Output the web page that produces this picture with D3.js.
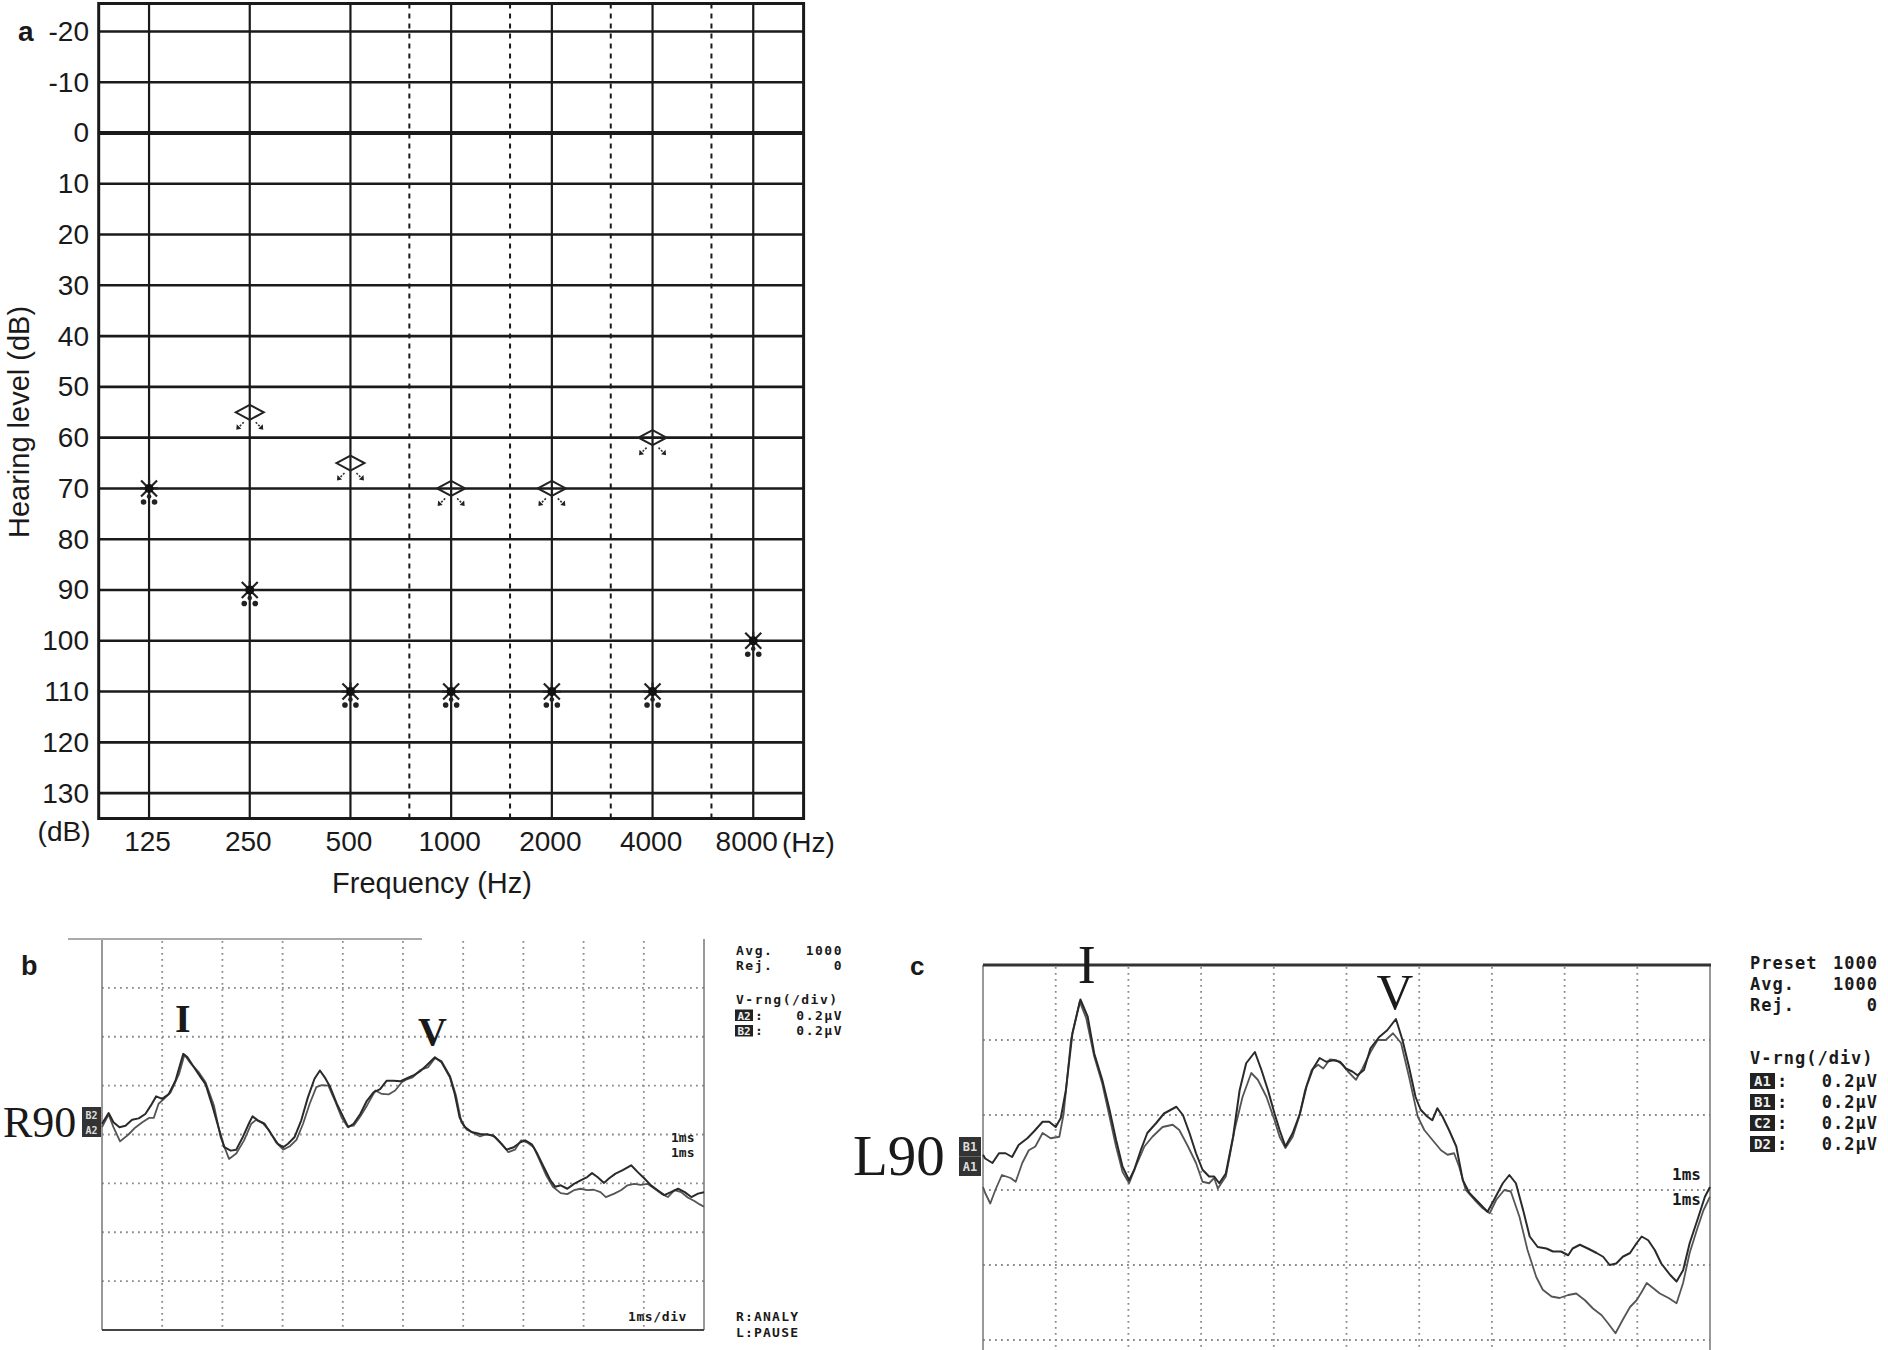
<!DOCTYPE html>
<html><head><meta charset="utf-8">
<script src="https://cdn.jsdelivr.net/npm/d3@7"></script>
<style>body{margin:0;background:#fff}svg{display:block}</style>
</head><body>
<svg id="chart" width="1888" height="1350"></svg>
<script>
// ---------- Panel a : audiogram ----------
const frequencies = [125, 250, 500, 1000, 2000, 4000, 8000];
const freqLabels = ["125", "250", "500", "1000", "2000", "4000", "8000"];
const midFrequencies = [750, 1500, 3000, 6000];
const dbTicks = [-20, -10, 0, 10, 20, 30, 40, 50, 60, 70, 80, 90, 100, 110, 120, 130];
const dbLabels = ["-20", "-10", "0", "10", "20", "30", "40", "50", "60", "70", "80", "90", "100", "110", "120", "130"];
const diamondFreqs = [250, 500, 1000, 2000, 4000];
const diamondLevels = [55, 65, 70, 70, 60];
const asteriskFreqs = [125, 250, 500, 1000, 2000, 4000, 8000];
const asteriskLevels = [70, 90, 110, 110, 110, 110, 100];

// ---------- Panel b : right ear ABR (t ms, amplitude uV) ----------
const rightTraceA = [[0,0.044],[0.11,0.088],[0.19,0.05],[0.29,0.03],[0.39,0.036],[0.5,0.06],[0.61,0.066],[0.72,0.084],[0.81,0.118],[0.9,0.156],[1.0,0.146],[1.11,0.166],[1.22,0.22],[1.35,0.33],[1.42,0.316],[1.53,0.274],[1.64,0.234],[1.72,0.206],[1.84,0.112],[1.95,0.016],[2.03,-0.052],[2.14,-0.066],[2.23,-0.062],[2.34,-0.01],[2.45,0.05],[2.5,0.074],[2.59,0.058],[2.7,0.044],[2.81,0.002],[2.92,-0.038],[3.01,-0.052],[3.09,-0.038],[3.2,-0.01],[3.31,0.058],[3.42,0.152],[3.53,0.228],[3.62,0.262],[3.7,0.234],[3.79,0.194],[3.9,0.126],[4.01,0.07],[4.09,0.03],[4.18,0.044],[4.29,0.084],[4.4,0.138],[4.51,0.172],[4.62,0.186],[4.73,0.22],[4.84,0.22],[4.96,0.218],[5.05,0.228],[5.19,0.244],[5.28,0.258],[5.39,0.282],[5.53,0.316],[5.64,0.296],[5.78,0.234],[5.86,0.166],[5.94,0.07],[6.03,0.03],[6.14,0.01],[6.28,0.002],[6.39,0],[6.5,-0.004],[6.61,-0.032],[6.72,-0.062],[6.84,-0.052],[6.95,-0.032],[7.03,-0.024],[7.14,-0.04],[7.23,-0.078],[7.34,-0.134],[7.45,-0.188],[7.53,-0.214],[7.62,-0.208],[7.73,-0.222],[7.84,-0.202],[7.95,-0.188],[8.06,-0.174],[8.14,-0.158],[8.23,-0.174],[8.34,-0.198],[8.42,-0.18],[8.53,-0.16],[8.65,-0.146],[8.79,-0.126],[8.9,-0.154],[9.01,-0.18],[9.12,-0.208],[9.23,-0.228],[9.34,-0.248],[9.45,-0.236],[9.57,-0.222],[9.68,-0.236],[9.79,-0.256],[9.9,-0.242],[10,-0.236]];
const rightTraceB = [[0,0.03],[0.11,0.082],[0.19,0.03],[0.3,-0.028],[0.44,0],[0.55,0.028],[0.67,0.05],[0.78,0.068],[0.86,0.068],[0.94,0.126],[1.03,0.146],[1.14,0.172],[1.28,0.248],[1.37,0.326],[1.47,0.292],[1.61,0.254],[1.72,0.214],[1.86,0.118],[1.97,-0.01],[2.11,-0.1],[2.23,-0.078],[2.36,-0.024],[2.48,0.044],[2.56,0.06],[2.67,0.046],[2.78,0.016],[2.89,-0.032],[3.01,-0.062],[3.12,-0.048],[3.23,-0.022],[3.34,0.044],[3.45,0.126],[3.56,0.194],[3.65,0.202],[3.76,0.2],[3.87,0.138],[3.98,0.07],[4.08,0.032],[4.18,0.036],[4.29,0.074],[4.4,0.118],[4.54,0.18],[4.65,0.166],[4.76,0.164],[4.87,0.18],[4.98,0.214],[5.05,0.224],[5.16,0.234],[5.29,0.264],[5.42,0.276],[5.53,0.312],[5.64,0.3],[5.78,0.24],[5.88,0.16],[5.97,0.05],[6.06,0.02],[6.17,0.006],[6.28,-0.008],[6.4,0.002],[6.53,-0.01],[6.64,-0.038],[6.75,-0.072],[6.86,-0.062],[6.96,-0.024],[7.06,-0.032],[7.17,-0.052],[7.27,-0.106],[7.38,-0.168],[7.49,-0.214],[7.62,-0.24],[7.73,-0.244],[7.84,-0.228],[7.95,-0.222],[8.06,-0.228],[8.17,-0.226],[8.28,-0.236],[8.37,-0.256],[8.51,-0.242],[8.62,-0.228],[8.73,-0.208],[8.84,-0.202],[8.95,-0.206],[9.06,-0.202],[9.18,-0.222],[9.29,-0.242],[9.4,-0.256],[9.51,-0.228],[9.62,-0.236],[9.73,-0.258],[9.84,-0.272],[9.93,-0.286],[10,-0.296]];

// ---------- Panel c : left ear ABR (t ms, amplitude uV) ----------
const leftTraceA = [[0,0.294],[0.03,0.284],[0.13,0.272],[0.22,0.298],[0.31,0.298],[0.4,0.288],[0.49,0.32],[0.61,0.338],[0.7,0.356],[0.82,0.382],[0.91,0.382],[1.0,0.368],[1.07,0.392],[1.14,0.466],[1.23,0.618],[1.34,0.708],[1.44,0.662],[1.53,0.564],[1.64,0.494],[1.74,0.414],[1.83,0.334],[1.92,0.262],[2.01,0.226],[2.08,0.254],[2.17,0.306],[2.26,0.352],[2.38,0.378],[2.49,0.404],[2.66,0.422],[2.75,0.4],[2.84,0.352],[2.93,0.298],[3.02,0.254],[3.11,0.236],[3.18,0.236],[3.25,0.218],[3.34,0.244],[3.44,0.342],[3.53,0.466],[3.62,0.538],[3.74,0.568],[3.83,0.52],[3.92,0.466],[4.01,0.404],[4.08,0.36],[4.16,0.316],[4.26,0.352],[4.36,0.404],[4.45,0.476],[4.54,0.524],[4.63,0.552],[4.72,0.542],[4.82,0.546],[4.91,0.542],[4.99,0.524],[5.08,0.516],[5.15,0.506],[5.24,0.52],[5.33,0.578],[5.45,0.608],[5.56,0.626],[5.68,0.656],[5.77,0.6],[5.86,0.528],[5.95,0.448],[6.02,0.414],[6.11,0.396],[6.18,0.386],[6.25,0.418],[6.32,0.396],[6.41,0.36],[6.51,0.316],[6.6,0.226],[6.69,0.192],[6.83,0.164],[6.94,0.142],[7.03,0.174],[7.15,0.218],[7.24,0.24],[7.33,0.218],[7.43,0.146],[7.52,0.076],[7.63,0.048],[7.75,0.044],[7.84,0.036],[7.95,0.036],[8.05,0.026],[8.11,0.044],[8.21,0.054],[8.32,0.044],[8.44,0.032],[8.53,0.022],[8.62,0],[8.71,0.004],[8.8,0.022],[8.9,0.032],[8.99,0.058],[9.06,0.076],[9.15,0.066],[9.24,0.04],[9.33,0.004],[9.45,-0.026],[9.54,-0.044],[9.63,-0.014],[9.72,0.058],[9.84,0.128],[9.93,0.182],[10,0.208]];
const leftTraceB = [[0,0.208],[0.03,0.192],[0.1,0.164],[0.17,0.2],[0.26,0.24],[0.38,0.232],[0.45,0.222],[0.54,0.272],[0.63,0.306],[0.72,0.316],[0.82,0.352],[0.93,0.338],[1.05,0.342],[1.11,0.404],[1.21,0.6],[1.33,0.702],[1.42,0.658],[1.53,0.556],[1.64,0.484],[1.74,0.396],[1.83,0.316],[1.92,0.248],[2.01,0.218],[2.1,0.262],[2.22,0.316],[2.33,0.342],[2.47,0.368],[2.61,0.374],[2.7,0.36],[2.82,0.316],[2.93,0.272],[3.02,0.222],[3.11,0.218],[3.18,0.232],[3.23,0.204],[3.34,0.236],[3.46,0.36],[3.57,0.448],[3.69,0.512],[3.78,0.494],[3.9,0.448],[4.01,0.386],[4.08,0.342],[4.16,0.312],[4.26,0.342],[4.35,0.396],[4.43,0.466],[4.52,0.52],[4.61,0.534],[4.68,0.524],[4.77,0.548],[4.86,0.546],[4.95,0.534],[5.02,0.516],[5.13,0.494],[5.22,0.524],[5.33,0.568],[5.43,0.6],[5.54,0.6],[5.64,0.618],[5.75,0.592],[5.86,0.502],[5.98,0.396],[6.07,0.36],[6.18,0.334],[6.3,0.306],[6.39,0.294],[6.48,0.298],[6.55,0.262],[6.64,0.2],[6.76,0.174],[6.87,0.152],[6.97,0.138],[7.06,0.174],[7.17,0.2],[7.26,0.196],[7.38,0.128],[7.49,0.04],[7.61,-0.032],[7.7,-0.066],[7.82,-0.084],[7.93,-0.088],[8.05,-0.08],[8.16,-0.076],[8.28,-0.094],[8.39,-0.116],[8.51,-0.134],[8.6,-0.156],[8.7,-0.182],[8.8,-0.146],[8.9,-0.112],[8.99,-0.094],[9.06,-0.072],[9.13,-0.048],[9.22,-0.062],[9.31,-0.076],[9.43,-0.088],[9.54,-0.102],[9.63,-0.048],[9.72,0.032],[9.82,0.094],[9.91,0.146],[10,0.182]];

const rightInfoLabels = ["Avg.", "Rej.", "V-rng(/div)", "A2", "B2"];
const rightInfoValues = ["1000", "0", "", "0.2\u03bcV", "0.2\u03bcV"];
const leftInfoLabels = ["Preset", "Avg.", "Rej.", "V-rng(/div)", "A1", "B1", "C2", "D2"];
const leftInfoValues = ["1000", "1000", "0", "", "0.2\u03bcV", "0.2\u03bcV", "0.2\u03bcV", "0.2\u03bcV"];
const msTicks = [1, 2, 3, 4, 5, 6, 7, 8, 9];

const svg = d3.select("#chart");
const SANS = "'Liberation Sans', Arial, sans-serif";
const SERIF = "'Liberation Serif', 'Times New Roman', serif";
const MONO = "'DejaVu Sans Mono', 'Liberation Mono', monospace";
const INK = "#1a1a1a";

// ===== Panel a =====
const ax = d3.scaleLog().base(2).domain([125 / Math.SQRT2, 8000 * Math.SQRT2]).range([98.7, 803.6]);
const ay = d3.scaleLinear().domain([-25.5, 135]).range([3.5, 818.5]);
const gA = svg.append("g");

gA.selectAll("line.hgrid").data(dbTicks).join("line").attr("class", "hgrid")
  .attr("x1", ax.range()[0]).attr("x2", ax.range()[1])
  .attr("y1", d => ay(d)).attr("y2", d => ay(d))
  .attr("stroke", INK).attr("stroke-width", d => d === 0 ? 3.8 : 2.6);

gA.selectAll("line.vgrid").data(frequencies).join("line").attr("class", "vgrid")
  .attr("x1", d => ax(d)).attr("x2", d => ax(d))
  .attr("y1", ay.range()[0]).attr("y2", ay.range()[1])
  .attr("stroke", INK).attr("stroke-width", 2.2);

gA.selectAll("line.mgrid").data(midFrequencies).join("line").attr("class", "mgrid")
  .attr("x1", d => ax(d)).attr("x2", d => ax(d))
  .attr("y1", ay.range()[0]).attr("y2", ay.range()[1])
  .attr("stroke", INK).attr("stroke-width", 2).attr("stroke-dasharray", "5,5");

gA.append("rect").attr("x", ax.range()[0]).attr("y", ay.range()[0])
  .attr("width", ax.range()[1] - ax.range()[0]).attr("height", ay.range()[1] - ay.range()[0])
  .attr("fill", "none").attr("stroke", INK).attr("stroke-width", 3);

// y axis labels
const yAxis = d3.axisLeft(ay).tickValues(dbTicks).tickSize(0).tickPadding(9.7).tickFormat((d, i) => dbLabels[i]);
const yg = gA.append("g").attr("transform", `translate(${ax.range()[0]},0)`).call(yAxis);
yg.select(".domain").remove();
yg.selectAll("text").attr("font-family", SANS).attr("font-size", 28).attr("fill", INK);

// x axis labels
const xAxis = d3.axisBottom(ax).tickValues(frequencies).tickSize(0).tickPadding(13)
  .tickFormat((d, i) => freqLabels[i]);
const xg = gA.append("g").attr("transform", `translate(0,${ay.range()[1]})`).call(xAxis);
xg.select(".domain").remove();
xg.selectAll("text").attr("font-family", SANS).attr("font-size", 28).attr("fill", INK)
  .attr("x", d => d === 8000 ? -7 : -2);

gA.append("text").attr("x", 782).attr("y", 851.5).attr("font-family", SANS).attr("font-size", 28).attr("fill", INK).text("(Hz)");
gA.append("text").attr("x", 90.5).attr("y", 841).attr("text-anchor", "end").attr("font-family", SANS).attr("font-size", 28).attr("fill", INK).text("(dB)");
gA.append("text").attr("x", 432).attr("y", 893).attr("text-anchor", "middle").attr("font-family", SANS).attr("font-size", 29).attr("fill", INK).text("Frequency (Hz)");
gA.append("text").attr("transform", "translate(29,422) rotate(-90)").attr("text-anchor", "middle").attr("font-family", SANS).attr("font-size", 29).attr("fill", INK).text("Hearing level (dB)");
gA.append("text").attr("x", 18).attr("y", 41).attr("font-family", SANS).attr("font-weight", "bold").attr("font-size", 28).attr("fill", INK).text("a");

// diamond markers
const diamonds = diamondFreqs.map((f, i) => ({ f, db: diamondLevels[i] }));
const dg = gA.selectAll("g.diamond").data(diamonds).join("g").attr("class", "diamond")
  .attr("transform", d => `translate(${ax(d.f)},${ay(d.db)})`);
dg.append("path").attr("d", "M-14,0 L0,-7.5 L14,0 L0,7.5 Z").attr("fill", "none")
  .attr("stroke", "#222").attr("stroke-width", 2);
[-1, 1].forEach(s => {
  dg.append("path").attr("d", `M${s * 6},10 L${s * 11},15`).attr("stroke", "#333").attr("stroke-width", 1.6).attr("stroke-dasharray", "2,1.5");
  dg.append("path").attr("d", `M${s * 13.5},17.5 L${s * 13},12 L${s * 8.5},16.5 Z`).attr("fill", "#222");
});

// asterisk markers
const asterisks = asteriskFreqs.map((f, i) => ({ f, db: asteriskLevels[i] }));
const sg = gA.selectAll("g.aster").data(asterisks).join("g").attr("class", "aster")
  .attr("transform", d => `translate(${ax(d.f)},${ay(d.db)})`);
sg.append("path").attr("d", "M-8,-8 L8,8 M-8,8 L8,-8 M0,-9 L0,9 M-9,0 L9,0").attr("stroke", "#222").attr("stroke-width", 2.2);
sg.append("circle").attr("r", 4.5).attr("fill", "#111");
sg.append("circle").attr("cy", 8).attr("r", 2.3).attr("fill", "#222");
sg.append("circle").attr("cx", -5.5).attr("cy", 13.5).attr("r", 2.8).attr("fill", "#222");
sg.append("circle").attr("cx", 5.5).attr("cy", 13.5).attr("r", 2.8).attr("fill", "#222");

// ===== ABR panels =====
function abrPanel(cfg) {
  const x = d3.scaleLinear().domain([0, 10]).range(cfg.xr);
  const y = d3.scaleLinear().domain([-0.8, 0.8]).range(cfg.yr);
  const g = svg.append("g");
  const yTop = cfg.yr[1], yBot = Math.min(cfg.yr[0], 1350);
  const hLevels = cfg.hLevels.filter(v => y(v) < 1350);
  g.selectAll("line.vd").data(msTicks).join("line").attr("class", "vd")
    .attr("x1", d => x(d)).attr("x2", d => x(d)).attr("y1", yTop + 2).attr("y2", yBot)
    .attr("stroke", "#8a8a8a").attr("stroke-width", 1.8).attr("stroke-dasharray", "1.8,4.2");
  g.selectAll("line.hd").data(hLevels).join("line").attr("class", "hd")
    .attr("x1", x(0)).attr("x2", x(10)).attr("y1", d => y(d)).attr("y2", d => y(d))
    .attr("stroke", "#8a8a8a").attr("stroke-width", 1.8).attr("stroke-dasharray", "1.8,4.2");
  [0, 10].forEach(t => g.append("line").attr("x1", x(t)).attr("x2", x(t)).attr("y1", yTop).attr("y2", yBot)
    .attr("stroke", "#777").attr("stroke-width", 1.5));
  cfg.extra(g, x, y);
  const line = d3.line().x(d => x(d[0])).y(d => y(d[1]));
  g.append("path").datum(cfg.traces[1]).attr("d", line).attr("fill", "none").attr("stroke", "#555").attr("stroke-width", 1.8).attr("stroke-linejoin", "round");
  g.append("path").datum(cfg.traces[0]).attr("d", line).attr("fill", "none").attr("stroke", "#2a2a2a").attr("stroke-width", 2).attr("stroke-linejoin", "round");
  return { x, y, g };
}

// Panel b
const pb = abrPanel({
  xr: [102, 704], yr: [1330, 939], hLevels: [-0.6, -0.4, -0.2, 0, 0.2, 0.4, 0.6],
  traces: [rightTraceA, rightTraceB],
  extra: (g, x, y) => {
    g.append("line").attr("x1", x(0)).attr("x2", x(10)).attr("y1", y(-0.8)).attr("y2", y(-0.8)).attr("stroke", "#444").attr("stroke-width", 2);
    g.append("line").attr("x1", 68).attr("x2", 422).attr("y1", y(0.8)).attr("y2", y(0.8)).attr("stroke", "#aaa").attr("stroke-width", 2);
  }
});
// Panel c
const pc = abrPanel({
  xr: [983, 1710], yr: [1565, 965], hLevels: [-0.2, 0, 0.2, 0.4, 0.6],
  traces: [leftTraceA, leftTraceB],
  extra: (g, x, y) => {
    g.append("line").attr("x1", x(0)).attr("x2", x(10) + 1).attr("y1", y(0.8)).attr("y2", y(0.8)).attr("stroke", "#333").attr("stroke-width", 3);
  }
});

function txt(x, y, s, o) {
  o = o || {};
  return svg.append("text").attr("x", x).attr("y", y).attr("font-family", o.ff || SANS).attr("font-size", o.fs || 14)
    .attr("font-weight", o.fw || "normal").attr("text-anchor", o.anchor || "start").attr("fill", o.fill || INK)
    .attr("letter-spacing", o.ls || null).text(s);
}

// panel b texts
txt(21, 975, "b", { fs: 27, fw: "bold" });
txt(3, 1137, "R90", { ff: SERIF, fs: 44 });
txt(182.7, 1031.7, "I", { ff: SERIF, fs: 40, anchor: "middle", fw: "bold" });
txt(432.5, 1045, "V", { ff: SERIF, fs: 40, anchor: "middle", fw: "bold" });
[["B2", 1107], ["A2", 1122]].forEach(([s, yy]) => {
  svg.append("rect").attr("x", 82).attr("y", yy).attr("width", 19).attr("height", 15).attr("fill", "#333");
  txt(91.5, yy + 11.5, s, { ff: MONO, fs: 10, fw: "bold", anchor: "middle", fill: "#ddd" });
});
const bBase = [955, 970, 1004, 1019.5, 1035];
rightInfoLabels.forEach((s, i) => {
  if (i >= 3) {
    svg.append("rect").attr("x", 735).attr("y", bBase[i] - 10).attr("width", 18).attr("height", 11.5).attr("fill", "#222");
    txt(744, bBase[i], s, { ff: MONO, fs: 11, fw: "bold", anchor: "middle", fill: "#eee" });
    txt(755, bBase[i], ":", { ff: MONO, fs: 13, fw: "bold" });
  } else {
    txt(736, bBase[i], s, { ff: MONO, fs: 13, fw: "bold", ls: 1.5 });
  }
  if (rightInfoValues[i]) txt(843, bBase[i], rightInfoValues[i], { ff: MONO, fs: 13, fw: "bold", anchor: "end", ls: 1.5 });
});
txt(736, 1321, "R:ANALY", { ff: MONO, fs: 13, fw: "bold", ls: 1.2 });
txt(736, 1337, "L:PAUSE", { ff: MONO, fs: 13, fw: "bold", ls: 1.2 });
txt(628, 1321, "1ms/div", { ff: MONO, fs: 13, fw: "bold", ls: 0.6 });
txt(671, 1142, "1ms", { ff: MONO, fs: 13, fw: "bold" });
txt(671, 1157, "1ms", { ff: MONO, fs: 13, fw: "bold" });

// panel c texts
txt(910, 975, "c", { fs: 26, fw: "bold" });
txt(853, 1175, "L90", { ff: SERIF, fs: 57 });
txt(1086.7, 982.7, "I", { ff: SERIF, fs: 54, anchor: "middle" });
txt(1395, 1009, "V", { ff: SERIF, fs: 51, anchor: "middle" });
[["B1", 1137], ["A1", 1156.5]].forEach(([s, yy]) => {
  svg.append("rect").attr("x", 959).attr("y", yy).attr("width", 22).attr("height", 19.5).attr("fill", "#333");
  txt(970, yy + 14, s, { ff: MONO, fs: 12, fw: "bold", anchor: "middle", fill: "#ddd" });
});
const cBase = [969, 990, 1011, 1064, 1087, 1108, 1129, 1150];
leftInfoLabels.forEach((s, i) => {
  if (i >= 4) {
    svg.append("rect").attr("x", 1750).attr("y", cBase[i] - 14).attr("width", 25).attr("height", 16).attr("fill", "#222");
    txt(1762.5, cBase[i] - 1, s, { ff: MONO, fs: 14, fw: "bold", anchor: "middle", fill: "#eee" });
    txt(1777, cBase[i], ":", { ff: MONO, fs: 17, fw: "bold" });
  } else {
    txt(1750, cBase[i], s, { ff: MONO, fs: 17, fw: "bold", ls: 1 });
  }
  if (leftInfoValues[i]) txt(1878, cBase[i], leftInfoValues[i], { ff: MONO, fs: 17, fw: "bold", anchor: "end", ls: 1 });
});
txt(1672, 1180, "1ms", { ff: MONO, fs: 16, fw: "bold" });
txt(1672, 1205, "1ms", { ff: MONO, fs: 16, fw: "bold" });
</script>
</body></html>
